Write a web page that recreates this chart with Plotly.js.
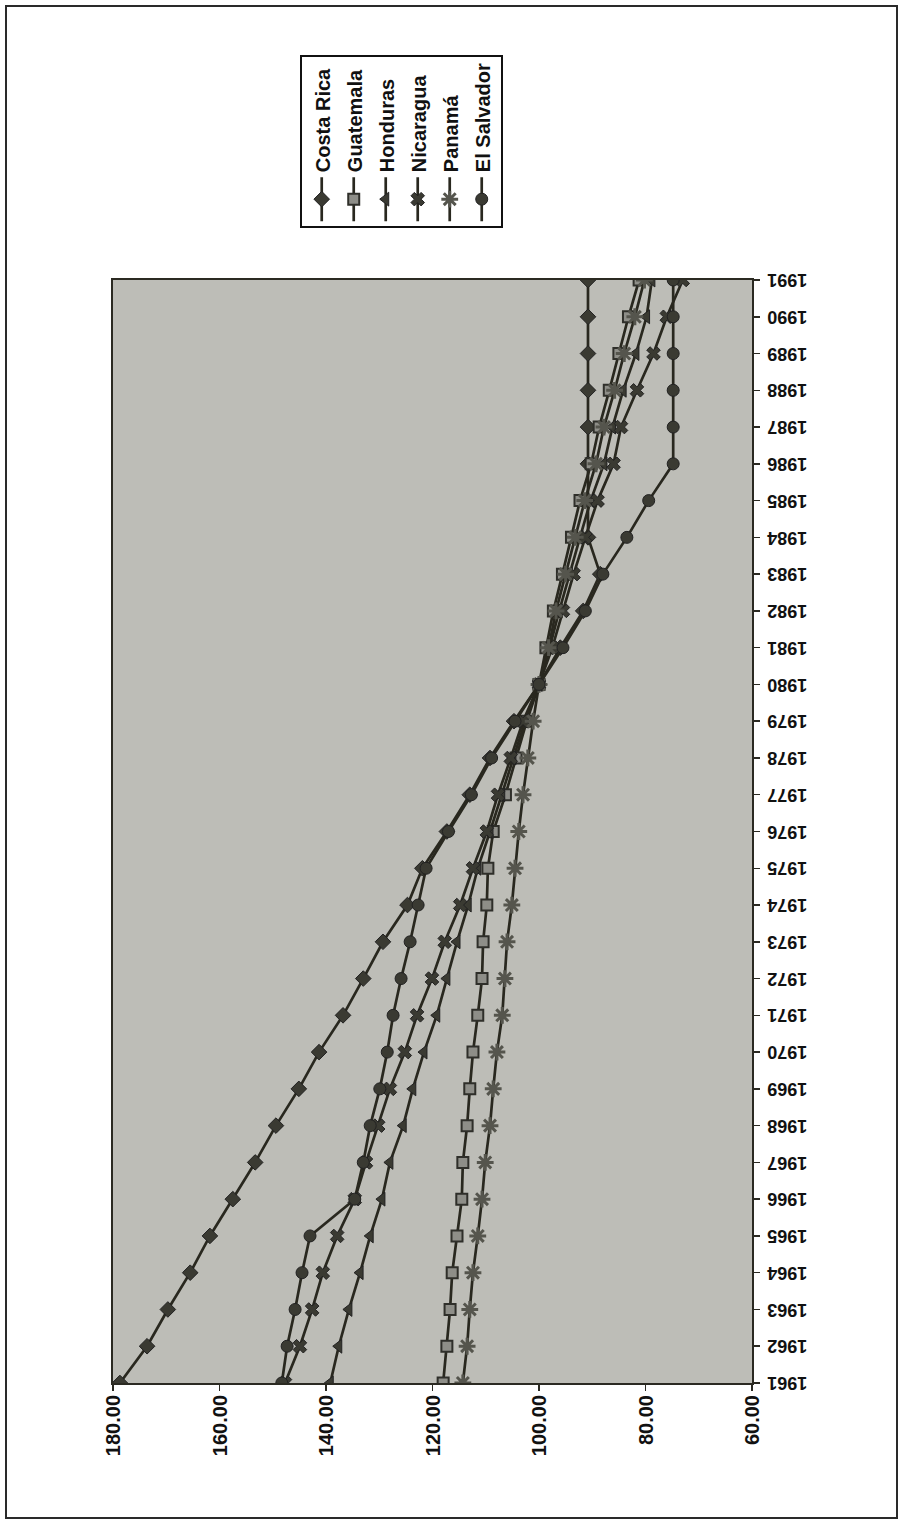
<!DOCTYPE html>
<html>
<head>
<meta charset="utf-8">
<script src="https://cdn.plot.ly/plotly-3.0.1.min.js"></script>
<style>
html, body { margin:0; padding:0; width:902px; height:1525px; overflow:hidden; background:#ffffff; }
#frame { position:absolute; left:5px; top:5px; width:889px; height:1510px; border:2px solid #2a2a2a; }
#chart { position:absolute; left:0; top:0; width:1525px; height:902px; transform-origin:0 0; transform:translateY(1525px) rotate(-90deg); }
</style>
</head>
<body>
<div id="frame"></div>
<div id="chart"></div>
<script>
// Years (category axis)
const years = [1961,1962,1963,1964,1965,1966,1967,1968,1969,1970,1971,1972,1973,1974,1975,1976,1977,1978,1979,1980,1981,1982,1983,1984,1985,1986,1987,1988,1989,1990,1991];

// Index values (1980 = 100)
const costaRica  = [178.7,173.6,169.7,165.5,161.8,157.5,153.3,149.4,145.1,141.3,136.8,133.0,129.3,124.7,121.9,117.3,113.0,109.2,104.7,100.0,96.0,91.7,88.5,90.8,90.8,90.8,90.8,90.8,90.8,90.8,90.8];
const guatemala  = [118.0,117.3,116.7,116.3,115.4,114.5,114.3,113.5,113.0,112.4,111.5,110.7,110.5,109.8,109.6,108.6,106.3,104.3,102.3,100.0,98.7,97.3,95.6,93.9,92.3,90.2,88.7,86.8,85.0,83.2,81.2];
const honduras   = [139.2,137.6,135.7,133.6,131.7,129.5,128.0,125.5,123.7,121.6,119.2,117.3,115.4,113.3,111.5,109.2,107.0,104.9,102.6,100.0,98.0,96.2,94.3,92.3,90.3,87.8,86.2,84.2,81.8,79.8,78.8];
const nicaragua  = [147.7,144.9,142.6,140.6,137.9,134.6,132.5,130.2,128.0,125.2,122.9,120.1,117.7,114.8,112.4,109.8,107.7,105.3,103.0,100.0,97.5,95.5,93.5,91.3,89.0,86.0,84.6,81.6,78.5,76.0,73.0];
const panama     = [114.3,113.5,113.0,112.4,111.5,110.7,110.1,109.2,108.6,107.9,106.9,106.4,106.0,105.1,104.5,103.8,103.0,102.1,101.1,100.0,98.2,96.8,95.0,93.2,91.4,89.3,87.8,85.8,84.0,82.0,80.2];
const elSalvador = [148.3,147.3,145.8,144.5,143.0,134.6,133.0,131.7,129.9,128.5,127.4,125.9,124.2,122.7,121.2,117.0,112.7,108.9,104.5,100.0,95.5,91.3,88.0,83.5,79.4,74.8,74.8,74.8,74.8,74.8,74.8];

const seriesNames = ['Costa Rica','Guatemala','Honduras','Nicaragua','Panamá','El Salvador'];
const valueTicks = [60,80,100,120,140,160,180];

const lineCol = '#29281f';
const series = [costaRica, guatemala, honduras, nicaragua, panama, elSalvador];
const markerStyles = [
  {symbol:'diamond', size:12, color:'#3a3a32', line:{color:'#222', width:1}},
  {symbol:'square', size:11, color:'#8e8e88', line:{color:'#2f2f2a', width:2}},
  {symbol:'triangle-up', size:12, color:'#3a3a32', line:{color:'#222', width:1}},
  {symbol:'x', size:12, color:'#3a3a32', line:{color:'#222', width:1}},
  {symbol:'asterisk-open', size:14, color:'#55554d', line:{color:'#55554d', width:3}},
  {symbol:'circle', size:12, color:'#3a3a32', line:{color:'#222', width:1}}
];

const font = {family:'Liberation Sans, Arial, sans-serif', size:17, color:'#111', weight:'bold'};

const traces = series.map((vals, i) => ({
  type:'scatter', mode:'lines+markers',
  x: years, y: vals, name: seriesNames[i],
  legendgroup: 'g' + i,
  line:{color: lineCol, width:2.7},
  marker: markerStyles[i]
}));

const layout = {
  width:1525, height:902,
  margin:{l:142, r:280, t:113, b:150},
  paper_bgcolor:'rgba(0,0,0,0)',
  plot_bgcolor:'#bdbdb7',
  showlegend:true,
  font: font,
  legend:{
    x:1.047, xanchor:'left', y:0.707, yanchor:'top',
    bgcolor:'#ffffff', bordercolor:'#111', borderwidth:2,
    font:{family:'Liberation Sans, Arial, sans-serif', size:20, color:'#111', weight:'bold'},
    tracegroupgap:3, itemwidth:44
  },
  xaxis:{
    range:[1961,1991], tickmode:'array', tickvals: years, ticktext: years.map(String),
    tickangle:-90, showgrid:false, zeroline:false,
    showline:true, mirror:true, linecolor:'#2b2a22', linewidth:2,
    ticks:'outside', ticklen:6, tickcolor:'#2b2a22', tickwidth:1.5,
    tickfont:{family:'Liberation Sans, Arial, sans-serif', size:18, color:'#111', weight:'bold'}
  },
  yaxis:{
    range:[60,180], tickmode:'array', tickvals: valueTicks, tickformat:'.2f',
    showgrid:false, zeroline:false,
    showline:true, mirror:true, linecolor:'#2b2a22', linewidth:2,
    ticks:'outside', ticklen:6, tickcolor:'#2b2a22', tickwidth:1.5,
    tickfont:{family:'Liberation Sans, Arial, sans-serif', size:20, color:'#111', weight:'bold'}
  }
};

Plotly.newPlot('chart', traces, layout, {displayModeBar:false, staticPlot:true});
</script>
</body>
</html>
